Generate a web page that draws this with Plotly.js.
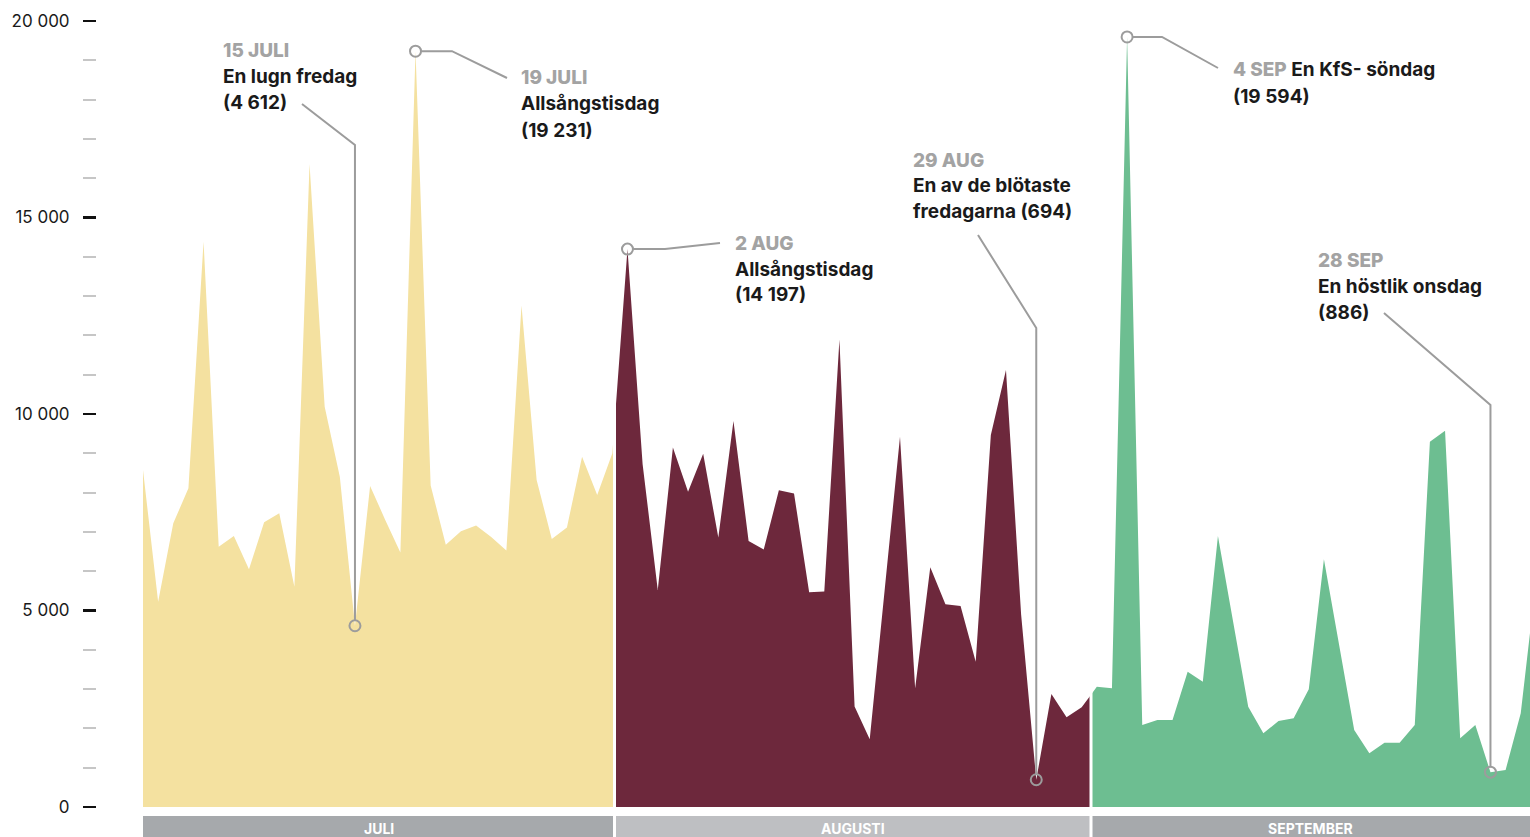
<!DOCTYPE html>
<html><head><meta charset="utf-8">
<script src="https://cdn.plot.ly/plotly-3.0.1.min.js"></script>
<style>html,body{margin:0;padding:0;background:#fff;overflow:hidden}#chart{width:1530px;height:837px}</style>
</head><body><div id="chart"></div>
<script>
// Daily visitors, 1 July .. 1 October
const juli = [8575, 5224, 7219, 8109, 14384, 6623, 6896, 6048, 7244, 7473, 5606, 16361, 10186, 8405, 4612, 8170, 7305, 6478, 19231, 8183, 6674, 7015, 7160, 6868, 6527, 12761, 8323, 6819, 7112, 8914, 7939];
const augusti = [9000, 14197, 8723, 5524, 9145, 8023, 8987, 6857, 9819, 6768, 6550, 8059, 7980, 5463, 5481, 11896, 2560, 1722, 5570, 9423, 3020, 6099, 5157, 5115, 3698, 9466, 11120, 4900, 694, 2875, 2282];
const september = [2536, 3061, 3020, 19594, 2087, 2214, 2214, 3443, 3189, 6896, 4720, 2553, 1875, 2188, 2256, 2994, 6302, 4130, 1959, 1366, 1636, 1636, 2087, 9296, 9576, 1748, 2087, 886, 941, 2384];
const oktober = [5720];

const monthLabels = ['JULI', 'AUGUSTI', 'SEPTEMBER'];
const monthColors = ['#f4e1a0', '#6d283c', '#6dbe91'];
const bandColors = ['#a6a9ac', '#bebfc2', '#a6a9ac'];

const highlightDay = [14, 18, 32, 59, 65, 89];   // day index from 1 July
const highlightDate = ['15 JULI', '19 JULI', '2 AUG', '29 AUG', '4 SEP', '28 SEP'];
const highlightLines = [
  ['En lugn fredag', '(4 612)'],
  ['Allsångstisdag', '(19 231)'],
  ['Allsångstisdag', '(14 197)'],
  ['En av de blötaste', 'fredagarna (694)'],
  ['En KfS- söndag', '(19 594)'],
  ['En höstlik onsdag', '(886)']
];

const values = juli.concat(augusti, september, oktober);
const days = values.map((v, i) => i);

// ---- layout geometry (pixels of the 1530x837 picture) ----
const W = 1530, H = 837;
const ML = 96, MT = 21, MB = 30;
const PX0 = 143, PXD = 15.14, PY0 = 807, PH = 786, YMAX = 20000;
const X = px => (px - PX0) / PXD;
const Y = py => (PY0 - py) * YMAX / PH;
const PXp = px => (px - ML) / (W - ML);
const PYp = py => (PY0 - py) / PH;

const xEnd = X(W);
const cuts = [X(614.5), X(1091)];
const segs = [[0, cuts[0]], [cuts[0], cuts[1]], [cuts[1], xEnd]];

function interp(t) {
  const i = Math.floor(t), f = t - i;
  if (i >= values.length - 1) return values[values.length - 1];
  return values[i] * (1 - f) + values[i + 1] * f;
}
function segment(a, b) {
  const xs = [a], ys = [interp(a)];
  days.forEach(d => { if (d > a && d < b) { xs.push(d); ys.push(values[d]); } });
  xs.push(b); ys.push(interp(b));
  return {xs, ys};
}

const traces = segs.map((s, k) => {
  const g = segment(s[0], s[1]);
  return {
    type: 'scatter', mode: 'lines', x: g.xs, y: g.ys,
    fill: 'tozeroy', fillcolor: monthColors[k],
    line: {width: 0, color: monthColors[k]}, hoverinfo: 'skip', showlegend: false
  };
});

const GRAY = '#9c9c9c';
traces.push({
  type: 'scatter', mode: 'markers',
  x: highlightDay, y: highlightDay.map(d => values[d]),
  marker: {symbol: 'circle-open', size: 11, color: GRAY, line: {width: 2, color: GRAY}},
  hoverinfo: 'skip', showlegend: false
});

const shapes = [];
segs.forEach((s, k) => {
  shapes.push({type: 'rect', xref: 'x', yref: 'paper', x0: s[0], x1: s[1],
    y0: PYp(816), y1: PYp(860), fillcolor: bandColors[k], line: {width: 0}, layer: 'above'});
});
cuts.forEach(c => {
  shapes.push({type: 'line', xref: 'x', yref: 'paper', x0: c, x1: c, y0: PYp(870), y1: 1,
    line: {color: '#ffffff', width: 3}, layer: 'above'});
});

// connector geometry: [kind, elbow px (x or y), end px x, end px y]
const connectors = [
  ['v', 145, 302, 104],
  ['h', 452, 507, 78],
  ['h', 665, 720, 243],
  ['v', 328, 978, 235],
  ['h', 1162, 1218, 68],
  ['v', 405, 1384, 313]
];
const dx = 5 / PXD, dy = 5 * YMAX / PH;
connectors.forEach((c, k) => {
  const d = highlightDay[k], v = values[d];
  let p;
  if (c[0] === 'h') {
    p = `M${d + dx},${v} L${X(c[1])},${v} L${X(c[2])},${Y(c[3])}`;
  } else {
    p = `M${d},${v + dy} L${d},${Y(c[1])} L${X(c[2])},${Y(c[3])}`;
  }
  shapes.push({type: 'path', xref: 'x', yref: 'y', path: p, line: {color: GRAY, width: 2}, layer: 'above'});
});

// text blocks: left px, first line centre px
const textPos = [[222, 51], [520, 78], [734, 243], [912, 160], [1232, 70], [1317, 260]];
const FONT = 'Inter, "Open Sans", sans-serif';
const DATE_STYLE = 'color:#a3a3a3;font-weight:800';
const annotations = [];
textPos.forEach((tp, k) => {
  const lines = [];
  if (k === 4) {
    lines.push(`<span style="${DATE_STYLE}">${highlightDate[k]}</span> ${highlightLines[k][0]}`);
    lines.push(highlightLines[k][1]);
  } else {
    lines.push(`<span style="${DATE_STYLE}">${highlightDate[k]}</span>`);
    highlightLines[k].forEach(l => lines.push(l));
  }
  lines.forEach((t, j) => {
    annotations.push({xref: 'paper', yref: 'paper', x: PXp(tp[0]), y: PYp(tp[1] + j * 26),
      xanchor: 'left', yanchor: 'middle', showarrow: false, text: t,
      font: {family: FONT, size: 19, color: '#1a1a1a', weight: 700}, borderpad: 0});
  });
});
segs.forEach((s, k) => {
  annotations.push({xref: 'x', yref: 'paper', x: (s[0] + s[1]) / 2, y: PYp(828),
    xanchor: 'center', yanchor: 'middle', showarrow: false, text: monthLabels[k],
    font: {family: FONT, size: 14, color: '#ffffff', weight: 700}, borderpad: 0});
});

const layout = {
  width: W, height: H,
  margin: {l: ML, r: 0, t: MT, b: MB, pad: 0},
  paper_bgcolor: '#ffffff', plot_bgcolor: 'rgba(0,0,0,0)',
  separators: ', ',
  showlegend: false,
  xaxis: {range: [0, xEnd], domain: [PXp(PX0), 1], visible: false, fixedrange: true},
  yaxis: {
    range: [0, YMAX], anchor: 'free', position: 0, showgrid: false, zeroline: false, showline: false,
    dtick: 5000, tick0: 0, tickformat: ',', ticks: 'outside', ticklen: 13, tickwidth: 2.2, tickcolor: '#111111',
    ticklabelstandoff: 10,
    tickfont: {family: FONT, size: 17, color: '#1a1a1a'},
    minor: {dtick: 1000, ticks: 'outside', ticklen: 13, tickwidth: 2, tickcolor: '#c6c6c6', showgrid: false},
    fixedrange: true
  },
  shapes: shapes,
  annotations: annotations
};

Plotly.newPlot('chart', traces, layout, {displayModeBar: false, staticPlot: true});
</script>
</body></html>
